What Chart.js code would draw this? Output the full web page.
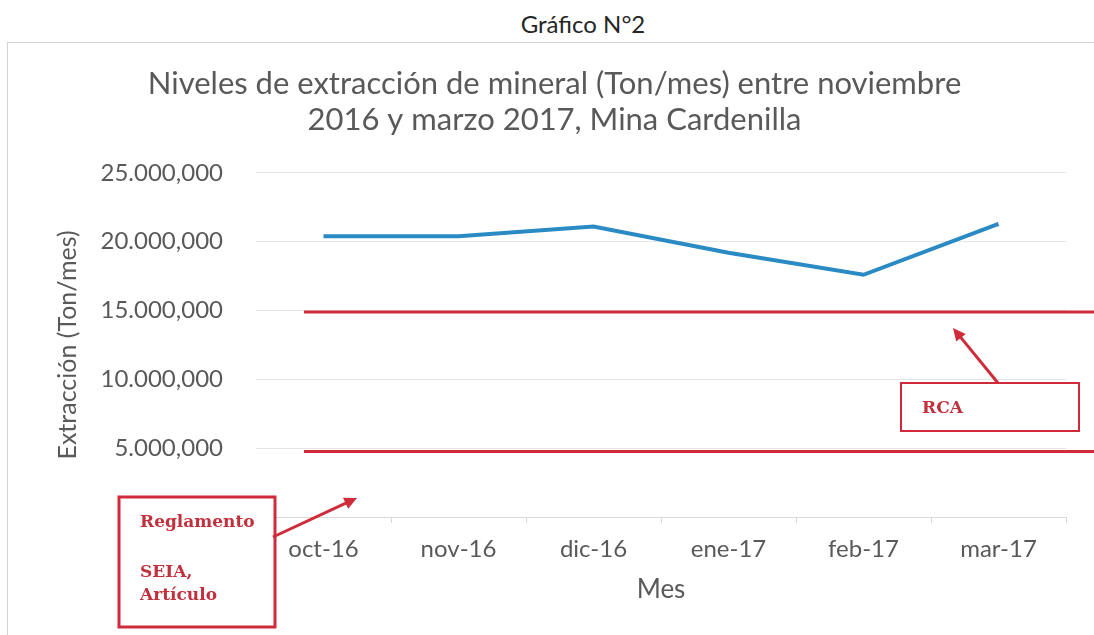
<!DOCTYPE html>
<html>
<head>
<meta charset="utf-8">
<script src="https://cdn.jsdelivr.net/npm/chart.js@4.4.1/dist/chart.umd.min.js"></script>
<style>
    html, body { margin: 0; padding: 0; background: #ffffff; overflow: hidden; }
    body { width: 1094px; height: 635px; position: relative; }
    #pageTitle {
        position: absolute; left: 0; width: 1166px; top: 9px;
        text-align: center; font-family: Lato, sans-serif; font-size: 24px; color: #262626;
    }
    #chartBox {
        position: absolute; left: 7px; top: 42px; width: 1094px; height: 593px;
        border-top: 1px solid #d2d2d2; border-left: 1px solid #d2d2d2;
        box-sizing: border-box;
    }
</style>
</head>
<body>
<div id="pageTitle">Gráfico N°2</div>
<div id="chartBox"><canvas id="myChart"></canvas></div>

<script>
// data
const meses = ['oct-16', 'nov-16', 'dic-16', 'ene-17', 'feb-17', 'mar-17'];
const extraccion = [20400000, 20400000, 21100000, 19200000, 17600000, 21300000];
const limiteRCA = 14900000;
const limiteSEIA = 4750000;
const yTicks = [0, 5000000, 10000000, 15000000, 20000000, 25000000];

const gris = '#595959';
const rojo = '#cf2b3a';
const fuente = 'Lato, sans-serif';

/* number format as printed in the original: 25.000,000 */
function formatoTick(v) {
    let miles = Math.round(v / 1000).toString().replace(/\B(?=(\d{3})+(?!\d))/g, '.');
    return miles + ',000';
}

/* draws an arrow with a filled head */
function flecha(ctx, x1, y1, x2, y2) {
    const ang = Math.atan2(y2 - y1, x2 - x1);
    const largo = 14;
    ctx.strokeStyle = rojo;
    ctx.fillStyle = rojo;
    ctx.lineWidth = 3;
    ctx.beginPath();
    ctx.moveTo(x1, y1);
    ctx.lineTo(x2 - Math.cos(ang) * largo * 0.8, y2 - Math.sin(ang) * largo * 0.8);
    ctx.stroke();
    ctx.beginPath();
    ctx.moveTo(x2, y2);
    ctx.lineTo(x2 - largo * Math.cos(ang - 0.45), y2 - largo * Math.sin(ang - 0.45));
    ctx.lineTo(x2 - largo * Math.cos(ang + 0.45), y2 - largo * Math.sin(ang + 0.45));
    ctx.closePath();
    ctx.fill();
}

/* red limit lines, drawn from the y scale */
const lineasLimite = {
    id: 'lineasLimite',
    afterDatasetsDraw(chart) {
        const ctx = chart.ctx;
        const y = chart.scales.y;
        const x0 = chart.chartArea.left + 48;
        ctx.save();
        ctx.strokeStyle = rojo;
        ctx.lineWidth = 3;
        for (let v of [limiteRCA, limiteSEIA]) {
            const py = y.getPixelForValue(v);
            ctx.beginPath();
            ctx.moveTo(x0, py);
            ctx.lineTo(chart.width, py);
            ctx.stroke();
        }
        ctx.restore();
    }
};

/* the two hand drawn callouts */
const notas = {
    id: 'notas',
    afterDraw(chart) {
        const ctx = chart.ctx;
        const a = chart.chartArea;
        ctx.save();
        ctx.lineWidth = 2;
        ctx.strokeStyle = rojo;
        ctx.fillStyle = '#ffffff';

        // RCA box
        let bx = a.right - 165, by = a.bottom - 134;
        ctx.fillRect(bx, by, 178, 48);
        ctx.strokeRect(bx, by, 178, 48);
        ctx.fillStyle = '#c0303d';
        ctx.font = 'bold 17px "DejaVu Serif", serif';
        ctx.textBaseline = 'alphabetic';
        ctx.fillText('RCA', bx + 21, by + 30);
        flecha(ctx, bx + 97, by, bx + 52, by - 55);

        // Reglamento box
        bx = a.left - 137; by = a.bottom - 20;
        ctx.fillStyle = '#ffffff';
        ctx.fillRect(bx, by, 156, 130);
        ctx.strokeRect(bx, by, 156, 130);
        ctx.fillStyle = '#c0303d';
        ctx.fillText('Reglamento', bx + 21, by + 30);
        ctx.fillText('SEIA,', bx + 21, by + 80);
        ctx.fillText('Artículo', bx + 21, by + 103);
        flecha(ctx, bx + 154, by + 40, bx + 238, by + 1);
        ctx.restore();
    }
};

new Chart('myChart', {
    type: 'line',
    data: {
        labels: meses,
        datasets: [{
            label: 'Extracción',
            data: extraccion,
            borderColor: '#2a8ac4',
            borderWidth: 4,
            pointRadius: 0,
            tension: 0
        }]
    },
    options: {
        responsive: true,
        maintainAspectRatio: false,
        animation: false,
        layout: { padding: { left: 35, right: 35, top: 0, bottom: 0 } },
        plugins: {
            legend: { display: false },
            tooltip: { enabled: false },
            title: {
                display: true,
                text: ['Niveles de extracción de mineral (Ton/mes) entre noviembre', '2016 y marzo 2017, Mina Cardenilla'],
                color: gris,
                font: { family: fuente, size: 31, weight: 'normal', lineHeight: 1.16 },
                padding: { top: 23, bottom: 35 }
            }
        },
        scales: {
            x: {
                offset: true,
                afterFit: function (s) { s.height = 118; },
                grid: { drawOnChartArea: false, drawTicks: true, tickLength: 6, offset: true, color: '#d9d9d9' },
                border: { color: '#d9d9d9' },
                ticks: { color: gris, font: { family: fuente, size: 24 }, padding: 12, maxRotation: 0 },
                title: {
                    display: true, text: 'Mes', color: gris,
                    font: { family: fuente, size: 26 }, padding: { top: 0, bottom: 30 }
                }
            },
            y: {
                min: 0,
                max: 25000000,
                afterFit: function (s) { s.width = 213; },
                afterBuildTicks: function (s) { s.ticks = yTicks.map(v => ({ value: v })); },
                grid: { color: '#e6e6e6', drawTicks: false },
                border: { display: false },
                ticks: {
                    color: gris, font: { family: fuente, size: 24 }, padding: 33,
                    callback: function (v) { return formatoTick(v); }
                },
                title: {
                    display: true, text: 'Extracción (Ton/mes)', color: gris,
                    font: { family: fuente, size: 25 }, padding: { top: 10, bottom: 0 }
                }
            }
        }
    },
    plugins: [lineasLimite, notas]
});
</script>
</body>
</html>
